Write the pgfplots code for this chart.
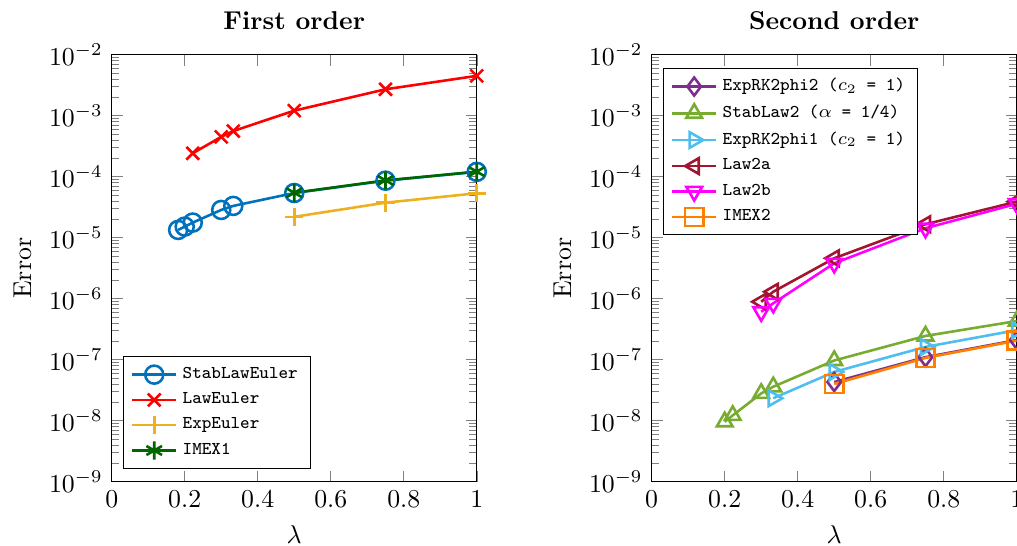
\documentclass[border=0pt]{standalone}
\usepackage{pgfplots}
\pgfplotsset{compat=1.18}

\definecolor{cBlue}{RGB}{0,114,189}
\definecolor{cRed}{RGB}{255,0,0}
\definecolor{cYellow}{RGB}{237,177,32}
\definecolor{cDGreen}{RGB}{0,102,0}
\definecolor{cPurple}{RGB}{126,47,142}
\definecolor{cLGreen}{RGB}{119,172,48}
\definecolor{cCyan}{RGB}{77,190,238}
\definecolor{cDRed}{RGB}{162,20,47}
\definecolor{cMagenta}{RGB}{255,0,255}
\definecolor{cOrange}{RGB}{255,128,0}

\pgfplotsset{
  errplot/.style={
    scale only axis,
    width=141.5pt, height=165.5pt,
    xmin=0, xmax=1,
    ymin=1e-9, ymax=1e-2,
    xtick={0,0.2,0.4,0.6,0.8,1},
    ytick={1e-9,1e-8,1e-7,1e-6,1e-5,1e-4,1e-3,1e-2},
    xlabel={$\lambda$}, ylabel={Error},
    title style={font=\bfseries},
    legend style={font=\scriptsize, cells={anchor=west}, draw=black},
    every axis plot/.append style={line width=1pt, mark size=3.5pt},
  }
}

\begin{document}
\begin{tikzpicture}

\begin{axis}[ymode=log, errplot, at={(0,0)}, anchor=south west,
  title={First order}, legend pos=south west]
\addplot[color=cBlue, mark=o] coordinates {
  (0.182,1.34e-5) (0.2,1.52e-5) (0.222,1.77e-5) (0.3,2.85e-5)
  (0.333,3.32e-5) (0.5,5.4e-5) (0.75,8.6e-5) (1,1.2e-4)};
\addlegendentry{\texttt{StabLawEuler}}
\addplot[color=cRed, mark=x] coordinates {
  (0.222,2.42e-4) (0.3,4.5e-4) (0.333,5.6e-4) (0.5,1.21e-3)
  (0.75,2.71e-3) (1,4.5e-3)};
\addlegendentry{\texttt{LawEuler}}
\addplot[color=cYellow, mark=+] coordinates {
  (0.5,2.2e-5) (0.75,3.75e-5) (1,5.35e-5)};
\addlegendentry{\texttt{ExpEuler}}
\addplot[color=cDGreen, mark=asterisk] coordinates {
  (0.5,5.45e-5) (0.75,8.7e-5) (1,1.21e-4)};
\addlegendentry{\texttt{IMEX1}}
\end{axis}

\begin{axis}[ymode=log, errplot, at={(209.3pt,0)}, anchor=south west,
  title={Second order}, legend pos=north west]
\addplot[color=cPurple, mark=diamond] coordinates {
  (0.5,4.3e-8) (0.75,1.1e-7) (1,2.1e-7)};
\addlegendentry{\texttt{ExpRK2phi2 ($c_2$ = 1)}}
\addplot[color=cLGreen, mark=triangle] coordinates {
  (0.2,9.6e-9) (0.222,1.22e-8) (0.3,2.8e-8) (0.333,3.6e-8)
  (0.5,9.7e-8) (0.75,2.45e-7) (1,4.3e-7)};
\addlegendentry{\texttt{StabLaw2 ($\alpha$ = 1/4)}}
\addplot[color=cCyan, mark=triangle, mark options={rotate=-90}] coordinates {
  (0.333,2.33e-8) (0.5,6.3e-8) (0.75,1.62e-7) (1,3.05e-7)};
\addlegendentry{\texttt{ExpRK2phi1 ($c_2$ = 1)}}
\addplot[color=cDRed, mark=triangle, mark options={rotate=90}] coordinates {
  (0.3,8.9e-7) (0.333,1.3e-6) (0.5,4.6e-6) (0.75,1.66e-5) (1,3.9e-5)};
\addlegendentry{\texttt{Law2a}}
\addplot[color=cMagenta, mark=triangle, mark options={rotate=180}] coordinates {
  (0.3,6.1e-7) (0.333,8.4e-7) (0.5,3.8e-6) (0.75,1.43e-5) (1,3.6e-5)};
\addlegendentry{\texttt{Law2b}}
\addplot[color=cOrange, mark=square] coordinates {
  (0.5,4.0e-8) (0.75,1.07e-7) (1,2.05e-7)};
\addlegendentry{\texttt{IMEX2}}
\end{axis}

\pgfresetboundingbox
\useasboundingbox (-43.3pt,-24.9pt) rectangle (350.9pt,186.7pt);
\end{tikzpicture}
\end{document}
